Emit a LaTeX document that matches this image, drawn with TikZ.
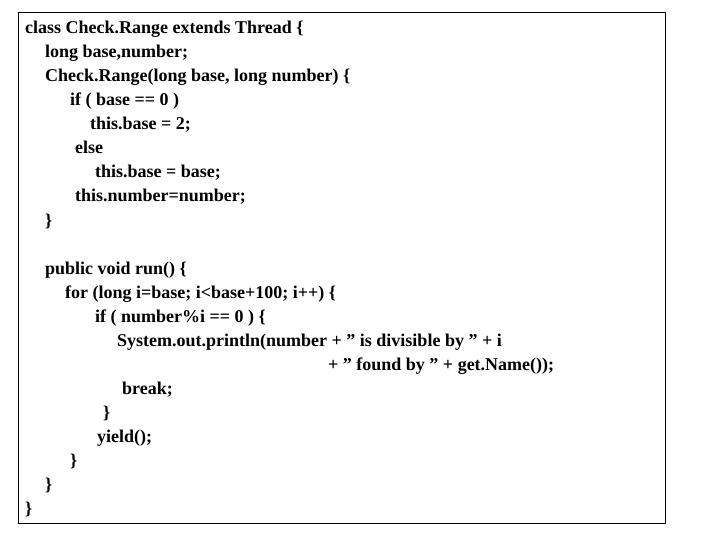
\documentclass[tikz,border=0pt]{standalone}
\usepackage{fontspec}
\setmainfont{Liberation Serif}
\begin{document}
\begin{tikzpicture}[x=1pt,y=-1pt,code/.style={anchor=base west,inner sep=0pt,font=\fontsize{18}{20}\selectfont\bfseries}]
\useasboundingbox (0,0) rectangle (720,540);
\node[draw,line width=0.8pt,minimum width=647,minimum height=511,anchor=north west,inner sep=0pt] (frame) at (18,12) {};
\node[code] (l1) at (25,34) {class Check.Range extends Thread \{};
\node[code] (l2) at (45,58) {long base,number;};
\node[code] (l3) at (45,82) {Check.Range(long base, long number) \{};
\node[code] (l4) at (70,106) {if ( base == 0 )};
\node[code] (l5) at (90,130) {this.base = 2;};
\node[code] (l6) at (75,154) {else};
\node[code] (l7) at (95,178) {this.base = base;};
\node[code] (l8) at (75,202) {this.number=number;};
\node[code] (l9) at (45,226) {\}};
\node[code] (l10) at (45,274) {public void run() \{};
\node[code] (l11) at (65,298) {for (long i=base; i<base+100; i++) \{};
\node[code] (l12) at (95,322) {if ( number\%i == 0 ) \{};
\node[code] (l13) at (117,346) {System.out.println(number + " is divisible by " + i};
\node[code] (l14) at (328,370) {+ " found by " + get.Name());};
\node[code] (l15) at (122,394) {break;};
\node[code] (l16) at (103,418) {\}};
\node[code] (l17) at (97,442) {yield();};
\node[code] (l18) at (70,466) {\}};
\node[code] (l19) at (45,490) {\}};
\node[code] (l20) at (25,514) {\}};
\end{tikzpicture}
\end{document}
